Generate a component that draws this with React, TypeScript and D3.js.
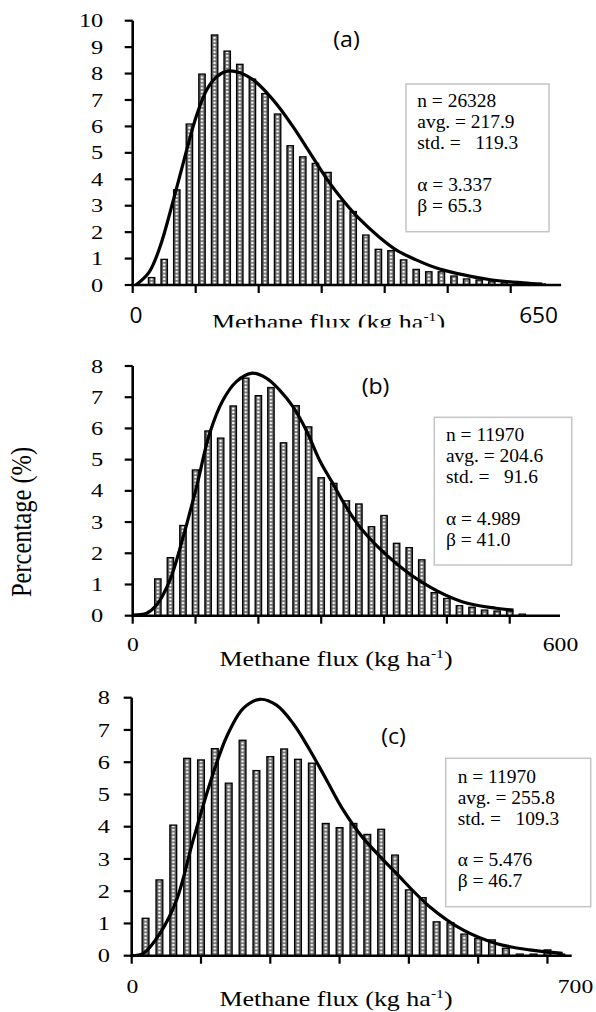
import React from 'react';
import * as d3 from 'd3';

const SERIF = '"Liberation Serif", "Times New Roman", serif';
const SANS = '"Open Sans", "Liberation Sans", sans-serif';

// ---------- data ----------
const panelTitles = ['(a)', '(b)', '(c)'];
const xEndLabels = ['650', '600', '700'];
const xAxisTitle = 'Methane flux (kg ha';

const aStats = ['n = 26328', 'avg. = 217.9', 'std. =   119.3', 'α = 3.337', 'β = 65.3'];
const bStats = ['n = 11970', 'avg. = 204.6', 'std. =   91.6', 'α = 4.989', 'β = 41.0'];
const cStats = ['n = 11970', 'avg. = 255.8', 'std. =   109.3', 'α = 5.476', 'β = 46.7'];

const aYTicks = [0, 1, 2, 3, 4, 5, 6, 7, 8, 9, 10];
const bYTicks = [0, 1, 2, 3, 4, 5, 6, 7, 8];
const cYTicks = [0, 1, 2, 3, 4, 5, 6, 7, 8];
const xTickBins = [0, 5, 10, 15, 20, 25, 30];

// histogram percentages (bins in order)
const aFirstBin = 1.5;
const aBars = [0.28, 0.97, 3.6, 6.09, 7.98, 9.46, 8.85, 8.35, 7.79, 7.24, 6.47, 5.27, 4.85, 4.6, 4.26, 3.18,
  2.78, 1.89, 1.35, 1.3, 0.95, 0.59, 0.5, 0.5, 0.34, 0.23, 0.19, 0.12, 0.08, 0.06, 0.05, 0.04];
const bFirstBin = 2;
const bBars = [1.18, 1.86, 2.89, 4.67, 5.92, 5.69, 6.72, 7.61, 7.05, 7.31, 5.54, 6.73, 6.05, 4.42, 4.24, 3.68,
  3.58, 2.85, 3.21, 2.32, 2.18, 1.79, 0.74, 0.55, 0.32, 0.27, 0.18, 0.15, 0.16, 0.05];
const cFirstBin = 1;
const cBars = [1.16, 2.35, 4.05, 6.12, 6.07, 6.42, 5.35, 6.68, 5.74, 6.17, 6.41, 6.09, 5.97, 4.1, 3.97, 4.1,
  3.76, 3.92, 3.12, 2.04, 1.8, 1.05, 1.02, 0.67, 0.54, 0.49, 0.23, 0.05, 0.05, 0.18, 0.05];

// fitted gamma curves (bin position, percentage)
const aFitBin = [0.26, 1.32, 2.17, 3.22, 4.28, 5.08, 5.87, 6.67, 7.59, 8.52, 9.57, 10.63, 11.69, 12.75, 14.07, 15.5, 16.7, 18.0, 19.6, 21.0, 22.5, 24.0, 25.7, 28.4, 31.0, 32.5];
const aFitPct = [0, 0.5, 1.45, 3.2, 5.1, 6.43, 7.38, 7.88, 8.1, 8.03, 7.76, 7.28, 6.68, 5.97, 5.0, 3.95, 3.2, 2.5, 1.8, 1.3, 0.95, 0.66, 0.44, 0.2, 0.08, 0.03];
const bFitBin = [0, 1.11, 1.9, 2.96, 4.02, 5.08, 6.13, 7.19, 8.25, 9.52, 10.63, 11.69, 12.75, 13.8, 14.86, 15.92, 16.98, 18.2, 20.95, 23.6, 26.2, 28.9, 30.3];
const bFitPct = [0.02, 0.08, 0.34, 1.14, 2.53, 4.13, 5.85, 6.91, 7.5, 7.77, 7.61, 7.23, 6.7, 5.95, 4.99, 4.24, 3.49, 2.78, 1.68, 0.93, 0.45, 0.24, 0.18];
const cFitBin = [0, 0.84, 2.04, 3.24, 4.44, 5.65, 6.85, 8.05, 9.25, 10.45, 11.65, 12.85, 14.06, 15.26, 16.6, 19.1, 21.5, 23.9, 26.3, 28.7, 31.1];
const cFitPct = [0, 0.07, 0.69, 1.73, 3.59, 5.35, 6.79, 7.67, 7.95, 7.77, 7.2, 6.38, 5.45, 4.52, 3.7, 2.55, 1.52, 0.8, 0.38, 0.18, 0.07];

// ---------- helpers ----------
function T({ x, y, sx = 1, size, family = SERIF, anchor = 'start', rotate = 0, children }: any) {
  const tr = `translate(${x},${y}) scale(${sx},1)` + (rotate ? ` rotate(${rotate})` : '');
  return (
    <text transform={tr} fontSize={size} fontFamily={family} textAnchor={anchor} fill="#000" style={{ whiteSpace: 'pre' }}>
      {children}
    </text>
  );
}

function Panel({ id, cfg }: any) {
  const xs = d3.scaleLinear().domain(cfg.xDomain).range(cfg.xRange);
  const ys = d3.scaleLinear().domain([0, cfg.yTicks[cfg.yTicks.length - 1]]).range(cfg.yRange);
  const step = xs(1) - xs(0);
  const barW = cfg.barW;
  const pts: [number, number][] = cfg.fitBin.map((b: number, i: number) => [b, cfg.fitPct[i]]);
  const line = d3.line<[number, number]>().x((d) => xs(d[0])).y((d) => ys(d[1])).curve(d3.curveCatmullRom.alpha(0.5));
  const y0 = ys(0);
  const axisL = cfg.xRange[0];
  const patX = xs(cfg.firstBin) - barW / 2;
  const lb = cfg.legend;
  return (
    <g>
      <defs>
        <pattern id={`hatch-${id}`} patternUnits="userSpaceOnUse" x={patX} y={0} width={step} height={3.6}>
          <rect x={0} y={0} width={step} height={3.6} fill="#5e5e5e" />
          <rect x={barW / 2 - 1.15} y={0.7} width={2.3} height={2.2} fill="#fff" />
        </pattern>
      </defs>
      {/* bars */}
      {cfg.bars.map((v: number, i: number) => (
        <rect key={i} x={xs(cfg.firstBin + i) - barW / 2} y={ys(v)} width={barW} height={Math.max(0.01, y0 - ys(v))}
          fill={`url(#hatch-${id})`} stroke="#000" strokeWidth={1.3} />
      ))}
      {/* axes */}
      <line x1={axisL} x2={axisL} y1={ys(cfg.yTicks[cfg.yTicks.length - 1])} y2={y0 + 1} stroke="#000" strokeWidth={2.6} />
      <line x1={axisL - 1} x2={cfg.xRange[1]} y1={y0} y2={y0} stroke="#000" strokeWidth={2.6} />
      {cfg.yTicks.map((t: number) => (
        <g key={t}>
          <line x1={axisL - 8} x2={axisL} y1={ys(t)} y2={ys(t)} stroke="#000" strokeWidth={2.2} />
          <T x={cfg.yLabelRight} y={ys(t) + 6.6} sx={1.25} size={19.5} anchor="end">{String(t)}</T>
        </g>
      ))}
      {xTickBins.map((b) => (
        <line key={b} x1={xs(b)} x2={xs(b)} y1={y0} y2={y0 + 8} stroke="#000" strokeWidth={2.2} />
      ))}
      {/* fitted curve */}
      <path d={line(pts) || ''} fill="none" stroke="#000" strokeWidth={3.2} strokeLinejoin="round" />
      {/* legend box */}
      <rect x={lb.x} y={lb.y} width={lb.w} height={lb.h} fill="#fff" stroke="#c4c4c4" strokeWidth={1.5} />
      {cfg.stats.map((s: string, i: number) => (
        <T key={i} x={lb.tx} y={lb.ty + lb.ls * (i < 3 ? i : i + 1)} sx={1.08} size={18}>{s}</T>
      ))}
      {/* titles & labels */}
      <T x={cfg.title[0]} y={cfg.title[1]} sx={1.1} size={21} family={SANS} anchor="middle">{panelTitles[id]}</T>
      <T x={cfg.zero[0]} y={cfg.zero[1]} sx={cfg.sansX ? 1.08 : 1.2} size={cfg.sansX ? 21 : 19.7} family={cfg.sansX ? SANS : SERIF} anchor="middle">0</T>
      <T x={cfg.end[0]} y={cfg.end[1]} sx={cfg.sansX ? 1.08 : 1.2} size={cfg.sansX ? 21 : 19.7} family={cfg.sansX ? SANS : SERIF} anchor="middle">{xEndLabels[id]}</T>
      <T x={cfg.xTitle[0]} y={cfg.xTitle[1]} sx={1.3} size={20} anchor="middle">
        {xAxisTitle}
        <tspan fontSize={12} dy={-8}>-1</tspan>
        <tspan dy={8}>)</tspan>
      </T>
    </g>
  );
}

const panels = [
  {
    bars: aBars, firstBin: aFirstBin, fitBin: aFitBin, fitPct: aFitPct, yTicks: aYTicks, stats: aStats,
    xDomain: [0, 34], xRange: [132.7, 561.1], yRange: [285, 20.7], yLabelRight: 103.3, barW: 6.4,
    legend: { x: 406, y: 84, w: 143, h: 147.7, tx: 417.3, ty: 107.3, ls: 21 },
    title: [346.5, 47], zero: [136, 323], end: [538.6, 323], xTitle: [328.5, 329], sansX: true,
  },
  {
    bars: bBars, firstBin: bFirstBin, fitBin: bFitBin, fitPct: bFitPct, yTicks: bYTicks, stats: bStats,
    xDomain: [0, 34], xRange: [132.7, 560], yRange: [615.7, 366], yLabelRight: 103.3, barW: 6.4,
    legend: { x: 434.3, y: 417.3, w: 137.4, h: 147.7, tx: 446, ty: 440.5, ls: 21 },
    title: [375.5, 394], zero: [133, 651], end: [560.5, 651], xTitle: [336, 666], sansX: false,
  },
  {
    bars: cBars, firstBin: cFirstBin, fitBin: cFitBin, fitPct: cFitPct, yTicks: cYTicks, stats: cStats,
    xDomain: [0, 31.75], xRange: [131.7, 571.7], yRange: [955.7, 697.7], yLabelRight: 110, barW: 6.8,
    legend: { x: 445.7, y: 758.3, w: 145, h: 148.4, tx: 457.7, ty: 783, ls: 20.8 },
    title: [393.5, 744], zero: [132.5, 993], end: [575.5, 993], xTitle: [336, 1006], sansX: false,
  },
];

export default function App() {
  return (
    <svg width={596} height={1012} viewBox="0 0 596 1012"
      style={{ position: 'absolute', left: 0, top: 0, background: '#fff' }}>
      <rect x={0} y={0} width={596} height={1012} fill="#fff" />
      <Panel id={0} cfg={panels[0]} />
      {/* the first panel's axis title is cut off by the next panel */}
      <rect x={150} y={327.5} width={380} height={20} fill="#fff" />
      <Panel id={1} cfg={panels[1]} />
      <Panel id={2} cfg={panels[2]} />
      <T x={31} y={522} sx={1.2} size={24.5} anchor="middle" rotate={-90}>Percentage (%)</T>
    </svg>
  );
}
